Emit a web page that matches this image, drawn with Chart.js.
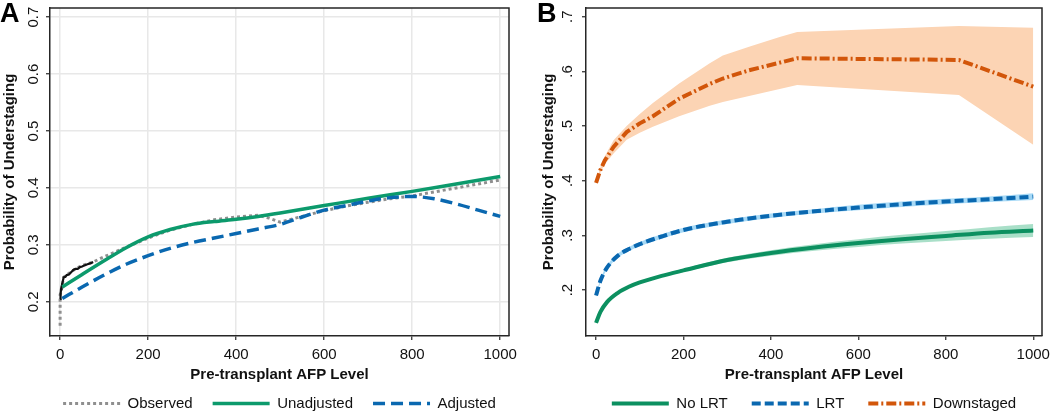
<!DOCTYPE html>
<html>
<head>
<meta charset="utf-8">
<script src="https://cdn.jsdelivr.net/npm/chart.js@4.4.1/dist/chart.umd.min.js"></script>
<style>
  html, body { margin: 0; padding: 0; background: #fff; }
  #wrap { position: relative; width: 1050px; height: 411px; overflow: hidden; }
  canvas { position: absolute; top: 0; }
  #cA { left: 0; }
  #cB { left: 525px; }
</style>
</head>
<body>
<div id="wrap">
  <canvas id="cA" width="525" height="411"></canvas>
  <canvas id="cB" width="525" height="411"></canvas>
</div>
<script>
// ---------- shared ticks ----------
const xTicks = [0, 200, 400, 600, 800, 1000];
const yTicks = [0.2, 0.3, 0.4, 0.5, 0.6, 0.7];
const yLabelsA = ['0.2', '0.3', '0.4', '0.5', '0.6', '0.7'];
const yLabelsB = ['.2', '.3', '.4', '.5', '.6', '.7'];
const xTitle = 'Pre-transplant AFP Level';
const yTitle = 'Probability of Understaging';

// ---------- Panel A ----------
const observedX = [0, 0, 3, 8, 15, 25, 35, 45, 55, 75, 100, 150, 200, 250, 300, 350, 400, 450, 475, 500, 550, 600, 650, 700, 750, 800, 900, 1000];
const observedY = [0.158, 0.212, 0.222, 0.243, 0.247, 0.253, 0.258, 0.262, 0.265, 0.27, 0.279, 0.296, 0.312, 0.326, 0.336, 0.344, 0.349, 0.352, 0.347, 0.34, 0.35, 0.36, 0.368, 0.375, 0.381, 0.386, 0.4, 0.414];
const earlyObsX = [0, 1, 2, 3, 5, 8, 12, 15, 20, 25, 30, 35, 40, 45, 50, 55, 62, 70, 75];
const earlyObsY = [0.205, 0.212, 0.222, 0.226, 0.232, 0.243, 0.244, 0.247, 0.248, 0.252, 0.256, 0.258, 0.258, 0.261, 0.262, 0.264, 0.266, 0.268, 0.27];
const unadjX = [5, 50, 100, 150, 200, 250, 300, 350, 400, 450, 500, 600, 700, 800, 900, 1000];
const unadjY = [0.226, 0.248, 0.272, 0.295, 0.314, 0.327, 0.336, 0.341, 0.345, 0.35, 0.356, 0.369, 0.382, 0.394, 0.407, 0.42];
const adjX = [5, 50, 100, 150, 200, 250, 300, 350, 400, 450, 500, 550, 600, 650, 700, 750, 800, 850, 900, 950, 1000];
const adjY = [0.206, 0.226, 0.247, 0.266, 0.281, 0.294, 0.304, 0.312, 0.32, 0.328, 0.336, 0.349, 0.361, 0.369, 0.377, 0.383, 0.385, 0.381, 0.372, 0.361, 0.35];

// ---------- Panel B ----------
const lrtX = [0, 10, 25, 50, 75, 100, 150, 200, 300, 400, 500, 600, 700, 800, 900, 1000];
const noLrtY  = [0.14, 0.16, 0.178, 0.195, 0.206, 0.214, 0.226, 0.236, 0.255, 0.268, 0.278, 0.286, 0.293, 0.299, 0.305, 0.309];
const noLrtLo = [0.139, 0.158, 0.176, 0.193, 0.204, 0.212, 0.224, 0.233, 0.251, 0.263, 0.272, 0.279, 0.285, 0.29, 0.294, 0.297];
const noLrtHi = [0.141, 0.162, 0.18, 0.197, 0.208, 0.216, 0.228, 0.239, 0.259, 0.273, 0.284, 0.293, 0.301, 0.308, 0.315, 0.321];
const lrtY  = [0.19, 0.217, 0.241, 0.263, 0.275, 0.284, 0.298, 0.31, 0.325, 0.336, 0.344, 0.351, 0.357, 0.362, 0.366, 0.371];
const lrtLo = [0.188, 0.214, 0.237, 0.259, 0.271, 0.28, 0.294, 0.306, 0.321, 0.332, 0.34, 0.346, 0.352, 0.357, 0.361, 0.365];
const lrtHi = [0.192, 0.22, 0.245, 0.267, 0.279, 0.288, 0.302, 0.314, 0.329, 0.34, 0.348, 0.356, 0.362, 0.367, 0.371, 0.377];
const downX  = [0, 10, 20, 40, 70, 100, 130, 190, 260, 290, 350, 420, 460, 830, 1000];
const downY  = [0.396, 0.42, 0.437, 0.462, 0.489, 0.505, 0.518, 0.55, 0.577, 0.587, 0.602, 0.616, 0.624, 0.621, 0.572];
const downHi = [0.398, 0.425, 0.445, 0.474, 0.5, 0.522, 0.542, 0.578, 0.615, 0.629, 0.645, 0.663, 0.672, 0.683, 0.68];
const downLo = [0.394, 0.415, 0.43, 0.45, 0.475, 0.488, 0.499, 0.518, 0.537, 0.544, 0.555, 0.568, 0.575, 0.557, 0.466];

// ---------- helpers ----------
const zip = (xs, ys) => xs.map((x, i) => ({ x: x, y: ys[i] }));
const FONT = '"Liberation Sans", Arial, Helvetica, sans-serif';

function legendLabels(chart) {
  return chart.data.datasets
    .map((ds, i) => ({ ds, i }))
    .filter(o => o.ds.label)
    .map(o => ({
      text: o.ds.label,
      strokeStyle: o.ds.borderColor,
      fillStyle: o.ds.borderColor,
      lineWidth: o.ds.borderWidth,
      lineDash: o.ds.borderDash || [],
      lineCap: 'butt',
      pointStyle: 'line',
      hidden: false,
      datasetIndex: o.i,
      fontColor: '#111'
    }));
}

const framePlugin = {
  id: 'frame',
  afterLayout(chart) {
    // centre the legend under the plotting area
    const lg = chart.legend, ca = chart.chartArea;
    if (!lg) return;
    const d = (ca.left + ca.right) / 2 - (lg.left + lg.right) / 2;
    lg.left += d; lg.right += d;
  },
  afterDraw(chart, args, opts) {
    const { ctx } = chart;
    const { left, top, right, bottom } = chart.chartArea;
    ctx.save();
    ctx.strokeStyle = '#262626';
    ctx.lineWidth = 1.5;
    ctx.beginPath();
    ctx.moveTo(left, top);
    ctx.lineTo(right, top);
    ctx.lineTo(right, bottom);
    ctx.stroke();
    ctx.fillStyle = '#000';
    ctx.font = 'bold 27px ' + FONT;
    ctx.textBaseline = 'alphabetic';
    ctx.fillText(opts.label, opts.lx, 22);
    ctx.restore();
  }
};

function makeOptions(cfg) {
  // legend height = 25 + pad; legend text centre ~403.5; plot bottom 336
  const xHeight = 41 - (cfg.legendPad - 19);
  const titleBottom = -7 - (cfg.legendPad - 19);
  return {
    responsive: false,
    devicePixelRatio: 1,
    animation: false,
    layout: { padding: { left: 0, right: cfg.padRight, top: 8, bottom: -10 } },
    elements: { point: { radius: 0 }, line: { borderCapStyle: 'butt' } },
    plugins: {
      tooltip: { enabled: false },
      frame: { label: cfg.panel, lx: cfg.lx },
      legend: {
        position: 'bottom',
        fullSize: true,
        labels: {
          usePointStyle: true,
          pointStyle: 'line',
          pointStyleWidth: 57,
          boxHeight: 15,
          padding: cfg.legendPad,
          color: '#111',
          font: { family: FONT, size: 15 },
          generateLabels: legendLabels
        }
      }
    },
    scales: {
      x: {
        type: 'linear',
        min: -23, max: 1020,
        afterFit: s => { s.height = xHeight; s.paddingLeft = 0; s.paddingRight = 0; },
        afterBuildTicks: s => { s.ticks = xTicks.map(v => ({ value: v })); },
        ticks: { color: '#111', font: { family: FONT, size: 15 }, padding: 6, maxRotation: 0, autoSkip: false,
                 callback: v => String(v) },
        grid: { display: true, drawOnChartArea: cfg.grid, color: '#e8e8e8', lineWidth: 1.5, tickLength: 4, tickColor: '#262626', tickWidth: 1.2 },
        border: { display: true, color: '#262626', width: 1.5 },
        title: { display: true, text: xTitle, color: '#111', font: { family: FONT, size: 15, weight: 'bold' }, padding: { top: 0, bottom: titleBottom } }
      },
      y: {
        type: 'linear',
        min: cfg.ymin, max: 0.716,
        afterFit: s => { s.width = cfg.yWidth; s.paddingTop = 0; s.paddingBottom = 0; },
        afterBuildTicks: s => { s.ticks = yTicks.map(v => ({ value: v })); },
        ticks: { color: '#111', font: { family: FONT, size: 15 }, padding: cfg.yPad, minRotation: 90, maxRotation: 90,
                 crossAlign: 'center', autoSkip: false,
                 callback: v => cfg.yLabels[yTicks.findIndex(t => Math.abs(t - v) < 1e-9)] },
        grid: { display: true, drawOnChartArea: cfg.grid, color: '#e8e8e8', lineWidth: 1.5, tickLength: 4, tickColor: '#262626', tickWidth: 1.2 },
        border: { display: true, color: '#262626', width: 1.5 },
        title: { display: true, text: yTitle, color: '#111', font: { family: FONT, size: 15, weight: 'bold' }, padding: { top: cfg.yTitlePad, bottom: 0 } }
      }
    }
  };
}

// ---------- Chart A ----------
new Chart(document.getElementById('cA'), {
  type: 'line',
  data: {
    datasets: [
      { label: 'Observed', data: zip(observedX, observedY), borderColor: '#8f8f8f', borderWidth: 3, borderDash: [3, 3], tension: 0, order: 4 },
      { label: '', data: zip(earlyObsX, earlyObsY), borderColor: '#111111', borderWidth: 2.2, tension: 0, order: 3 },
      { label: 'Unadjusted', data: zip(unadjX, unadjY), borderColor: '#0c9a6c', borderWidth: 3.5, cubicInterpolationMode: 'monotone', order: 2 },
      { label: 'Adjusted', data: zip(adjX, adjY), borderColor: '#0a68b0', borderWidth: 3.5, borderDash: [12, 6], cubicInterpolationMode: 'monotone', order: 1 }
    ]
  },
  options: makeOptions({ panel: 'A', lx: 0, padRight: 16, yWidth: 50, yPad: 2, yTitlePad: 1, grid: true, ymin: 0.14, yLabels: yLabelsA, legendPad: 20 }),
  plugins: [framePlugin]
});

// ---------- Chart B ----------
new Chart(document.getElementById('cB'), {
  type: 'line',
  data: {
    datasets: [
      { label: 'No LRT', data: zip(lrtX, noLrtY), borderColor: '#0c9060', borderWidth: 4, cubicInterpolationMode: 'monotone', order: 0 },
      { label: 'LRT', data: zip(lrtX, lrtY), borderColor: '#0a68b0', borderWidth: 4, borderDash: [9, 4], cubicInterpolationMode: 'monotone', order: 0 },
      { label: 'Downstaged', data: zip(downX, downY), borderColor: '#d2560a', borderWidth: 4, borderDash: [10, 3, 2, 3], tension: 0, order: 0 },
      { data: zip(lrtX, noLrtHi), borderWidth: 0, borderColor: 'rgba(0,0,0,0)', backgroundColor: 'rgba(140,212,182,0.75)', fill: '+1', cubicInterpolationMode: 'monotone', order: 1 },
      { data: zip(lrtX, noLrtLo), borderWidth: 0, borderColor: 'rgba(0,0,0,0)', fill: false, cubicInterpolationMode: 'monotone', order: 1 },
      { data: zip(lrtX, lrtHi), borderWidth: 0, borderColor: 'rgba(0,0,0,0)', backgroundColor: 'rgba(150,210,245,0.85)', fill: '+1', cubicInterpolationMode: 'monotone', order: 1 },
      { data: zip(lrtX, lrtLo), borderWidth: 0, borderColor: 'rgba(0,0,0,0)', fill: false, cubicInterpolationMode: 'monotone', order: 1 },
      { data: zip(downX, downHi), borderWidth: 0, borderColor: 'rgba(0,0,0,0)', backgroundColor: 'rgba(252,212,180,1)', fill: '+1', tension: 0, order: 2 },
      { data: zip(downX, downLo), borderWidth: 0, borderColor: 'rgba(0,0,0,0)', fill: false, tension: 0, order: 2 }
    ]
  },
  options: makeOptions({ panel: 'B', lx: 12, padRight: 8, yWidth: 61, yPad: 8, yTitlePad: 15, grid: false, ymin: 0.116, yLabels: yLabelsB, legendPad: 24 }),
  plugins: [framePlugin]
});
</script>
</body>
</html>
